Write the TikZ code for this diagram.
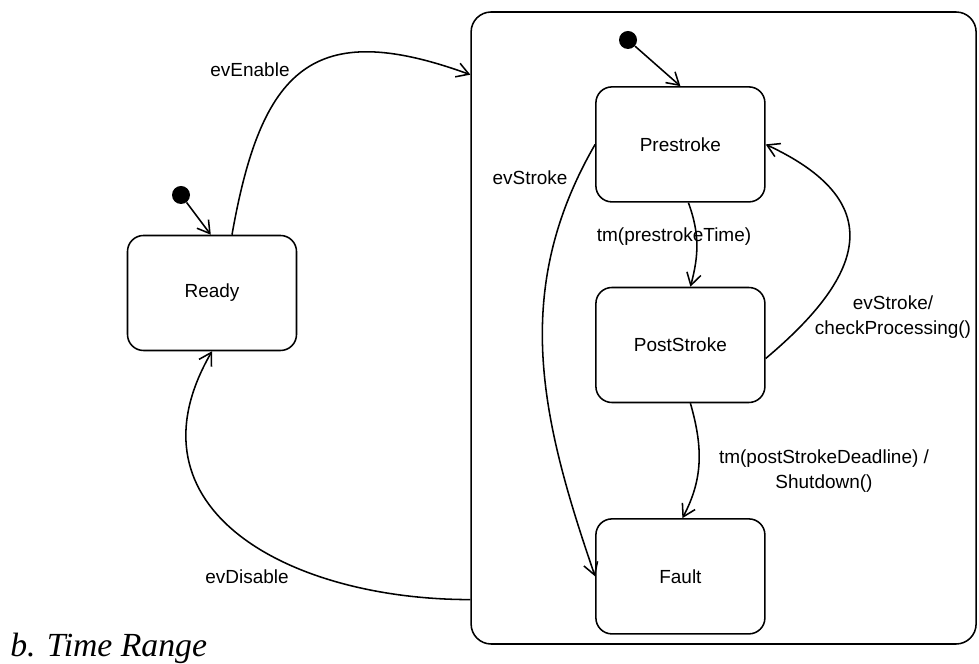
\documentclass[tikz,border=0pt]{standalone}
\usepackage{fontspec}
\setmainfont{Liberation Sans}
\newfontfamily\captionfont{Liberation Serif}
\usetikzlibrary{arrows.meta}

\begin{document}
\begin{tikzpicture}[font=\fontsize{13.5}{17.8}\selectfont,
		statebox/.style={draw, line width=1.1pt, rounded corners=0.4cm, minimum width=4.225cm, minimum height=2.875cm},
		initdot/.style={circle, fill, inner sep=0pt, minimum size=0.45cm},
		trans/.style={line width=1.1pt, -{Straight Barb[length=0.3cm, width=0.36cm]}},
		lbl/.style={align=center, inner sep=0pt}]
			\useasboundingbox (0, 0) rectangle (24.475, 16.6);
			\node[draw, line width=1.1pt, rounded corners=0.5cm, minimum width=12.625cm, minimum height=15.8cm](Super) at (18.09, 8.4){};
			\node[statebox](Ready) at (5.3, 9.275){Ready};
			\node[statebox](Prestroke) at (17.01, 12.99){Prestroke};
			\node[statebox](PostStroke) at (17.01, 7.975){PostStroke};
			\node[statebox](Fault) at (17.01, 2.19){Fault};
			\node[initdot](InitReady) at (4.525, 11.725){};
			\node[initdot](InitPre) at (15.7, 15.6){};
			\draw[trans] (InitReady) -- ([xshift=-0.03cm]Ready.north);
			\draw[trans] (InitPre) -- (Prestroke.north);
			\draw[trans] ([xshift=0.5cm]Ready.north) to[out=80, in=160, looseness=1.5] (Super.135.7);
			\draw[trans] (Super.227.2) to[out=180, in=-120, looseness=1.3] (Ready.south);
			\draw[trans] (Prestroke.west) to[out=240, in=109] (Fault.west);
			\draw[trans] ([xshift=0.2cm]Prestroke.south) to[out=-70, in=75] ([xshift=0.25cm]PostStroke.north);
			\draw[trans] (PostStroke.-9) to[out=40, in=-25, looseness=1.6] (Prestroke.east);
			\draw[trans] ([xshift=0.25cm]PostStroke.south) to[out=-74, in=62] ([xshift=0.05cm]Fault.north);
			\node[lbl](LEnable) at (6.25, 14.85){evEnable};
			\node[lbl](LDisable) at (6.175, 2.175){evDisable};
			\node[lbl](LStroke) at (13.25, 12.15){evStroke};
			\node[lbl](LPreTime) at (16.85, 10.675){tm(prestrokeTime)};
			\node[lbl](LCheck) at (22.325, 8.675){evStroke/\\checkProcessing()};
			\node[lbl](LDeadline) at (20.6, 4.825){tm(postStrokeDeadline) /\\Shutdown()};
			\node[anchor=base west, inner sep=0pt, font=\captionfont\itshape\fontsize{24}{28}\selectfont](Caption) at (0.25, 0.175){b. Time Range};
		\end{tikzpicture}
\end{document}
